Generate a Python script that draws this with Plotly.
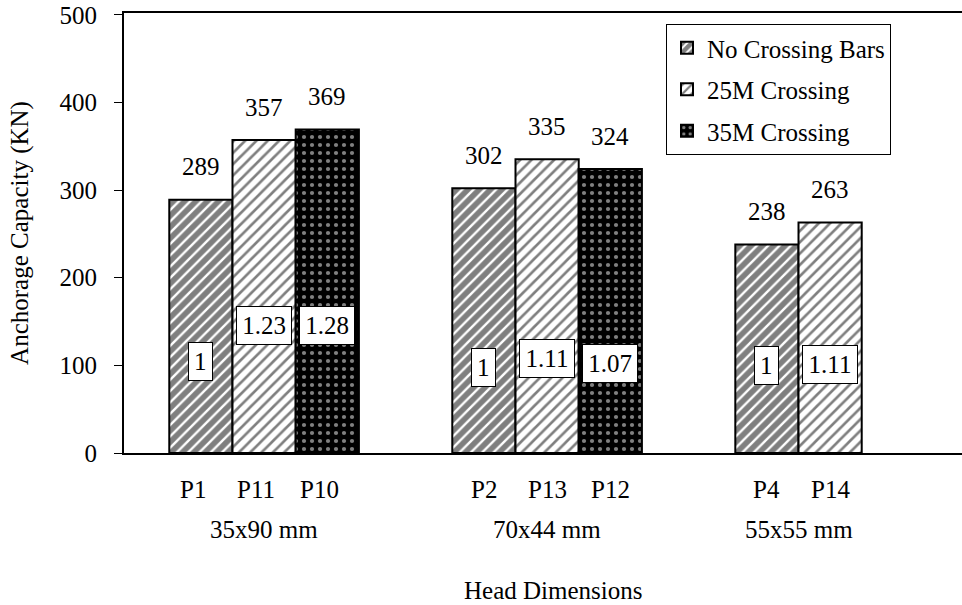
import plotly.graph_objects as go

# ---- data ----
groups = ["35x90 mm", "70x44 mm", "55x55 mm"]
series_names = ["No Crossing Bars", "25M Crossing", "35M Crossing"]

no_cross_vals = [289, 302, 238]
no_cross_ids = ["P1", "P2", "P4"]
no_cross_ratio = ["1", "1", "1"]

m25_vals = [357, 335, 263]
m25_ids = ["P11", "P13", "P14"]
m25_ratio = ["1.23", "1.11", "1.11"]

m35_vals = [369, 324]
m35_ids = ["P10", "P12"]
m35_ratio = ["1.28", "1.07"]

# heights (axis units) where the normalised-ratio boxes sit
no_cross_box_y = [104, 98, 100]
m25_box_y = [145, 108, 101]
m35_box_y = [145, 102]

# ---- styling ----
FONT = "Liberation Serif, Times New Roman, serif"
FS = 25
W, H = 962, 605
ML, MR, MT, MB = 124, 0, 13, 152
PLOT_H = H - MT - MB
BARGAP = 0.33
n_series = 3
slot = (1 - BARGAP) / n_series

patterns = [
    dict(shape="/", bgcolor="white", fgcolor="black", size=8, solidity=0.7),
    dict(shape="/", bgcolor="white", fgcolor="black", size=8, solidity=0.33),
    dict(shape=".", bgcolor="black", fgcolor="white", size=8, solidity=0.22),
]

series = [
    (no_cross_vals, no_cross_ids, no_cross_ratio, no_cross_box_y),
    (m25_vals, m25_ids, m25_ratio, m25_box_y),
    (m35_vals, m35_ids, m35_ratio, m35_box_y),
]

fig = go.Figure()
for i, (vals, ids, ratios, boxy) in enumerate(series):
    fig.add_trace(go.Bar(
        x=groups[:len(vals)],
        y=vals,
        name=series_names[i],
        legendgroup=series_names[i],
        marker=dict(color="white", pattern=patterns[i],
                    line=dict(color="black", width=2)),
    ))

annotations = []


def px_to_paper_y(py):
    return (H - MB - py) / PLOT_H


for i, (vals, ids, ratios, boxy) in enumerate(series):
    offset = (i - (n_series - 1) / 2) * slot
    for g, v in enumerate(vals):
        xc = g + offset
        # value above the bar
        annotations.append(dict(x=xc, y=v, xref="x", yref="y", text=str(v),
                                showarrow=False, yanchor="middle", yshift=33,
                                font=dict(family=FONT, size=FS, color="black")))
        # ratio box inside the bar
        annotations.append(dict(x=xc, y=boxy[g], xref="x", yref="y",
                                text=ratios[g], showarrow=False,
                                bgcolor="white", bordercolor="black",
                                borderwidth=1, borderpad=5,
                                width=44 if len(ratios[g]) > 1 else None,
                                font=dict(family=FONT, size=FS, color="black")))
        # specimen id under the axis
        annotations.append(dict(x=xc, y=px_to_paper_y(490), xref="x",
                                yref="paper", text=ids[g], showarrow=False,
                                xshift=-8 if g == 0 else 0,
                                yanchor="middle",
                                font=dict(family=FONT, size=FS, color="black")))

# group labels centred on the drawn bars of each group
for g, name in enumerate(groups):
    n_bars = sum(1 for s in series if len(s[0]) > g)
    first = g - (n_series - 1) / 2 * slot
    last = first + (n_bars - 1) * slot
    annotations.append(dict(x=(first + last) / 2, y=px_to_paper_y(529),
                            xref="x", yref="paper", text=name,
                            showarrow=False, yanchor="middle",
                            font=dict(family=FONT, size=FS, color="black")))

annotations.append(dict(x=(553 - ML) / (W - ML - MR), y=px_to_paper_y(590),
                        xref="paper", yref="paper", text="Head Dimensions",
                        showarrow=False, yanchor="middle",
                        font=dict(family=FONT, size=FS, color="black")))

fig.update_layout(
    width=W, height=H,
    margin=dict(l=ML, r=MR, t=MT, b=MB, pad=0),
    paper_bgcolor="white", plot_bgcolor="white",
    barmode="group", bargap=BARGAP, bargroupgap=0,
    font=dict(family=FONT, size=FS, color="black"),
    showlegend=True,
    legend=dict(x=(666 - ML) / (W - ML - MR), y=px_to_paper_y(24),
                xanchor="left", yanchor="top",
                bgcolor="white", bordercolor="black", borderwidth=1,
                traceorder="grouped", tracegroupgap=6,
                font=dict(family=FONT, size=FS, color="black")),
    xaxis=dict(range=[-0.495, 2.466], showticklabels=False, ticks="",
               showgrid=False, zeroline=False,
               showline=True, linecolor="black", linewidth=2, mirror=True),
    yaxis=dict(range=[0, 502], tickvals=[0, 100, 200, 300, 400, 500],
               ticks="outside", ticklen=8, tickwidth=1, tickcolor="black",
               ticklabelstandoff=12,
               showgrid=False, zeroline=False,
               showline=True, linecolor="black", linewidth=2,
               title=dict(text="Anchorage Capacity (KN)", standoff=24,
                          font=dict(family=FONT, size=FS, color="black")),
               tickfont=dict(family=FONT, size=FS, color="black")),
    annotations=annotations,
)

fig.write_html("out.html")
